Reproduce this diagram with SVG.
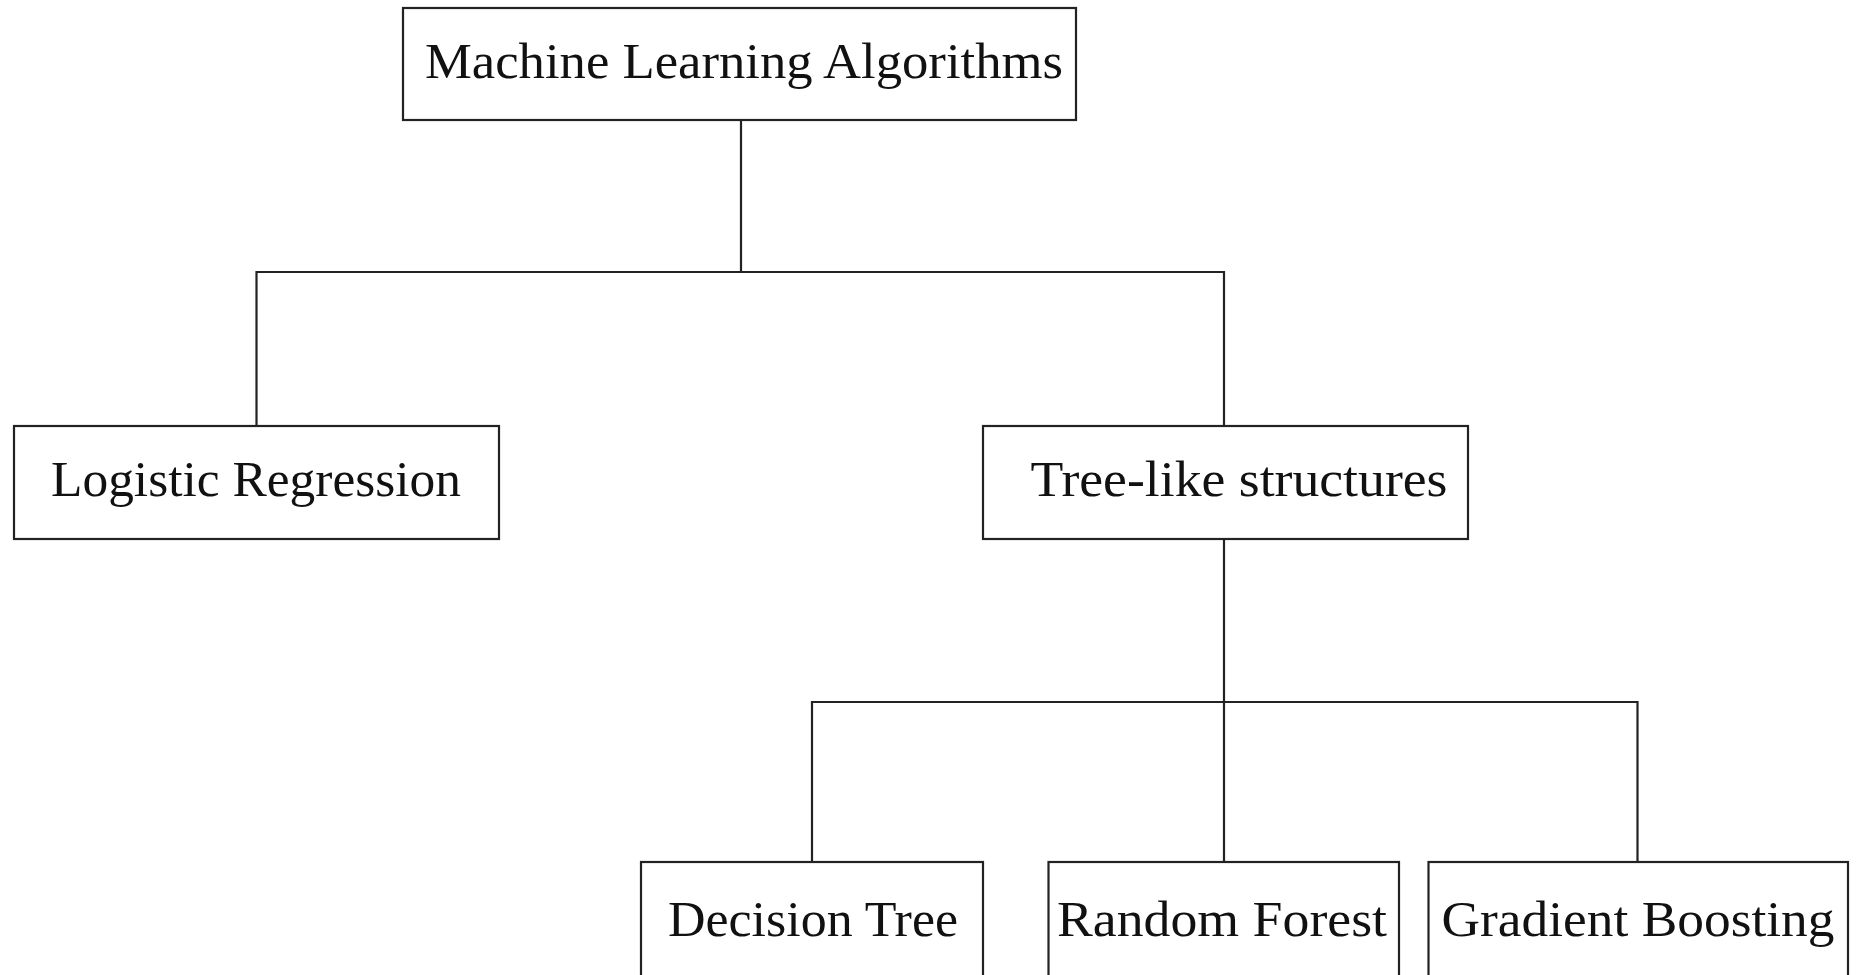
<svg xmlns="http://www.w3.org/2000/svg" width="1862" height="975" viewBox="0 0 1862 975">
<style>
.box{fill:#fff;stroke:#222;stroke-width:2.2}
.lbl{font-family:"Liberation Serif","DejaVu Serif",serif;font-size:50px;fill:#111;text-anchor:middle}
.conn{fill:none;stroke:#222;stroke-width:2.2}
</style>
<rect width="1862" height="975" fill="#fff"/>
<g id="connectors">
<path class="conn" d="M741 120 V272 M256.5 426 V272 H1224 V426"/>
<path class="conn" d="M1224 539 V702 M812 862 V702 H1637.5 V862 M1224 702 V862"/>
</g>
<g id="n-ml"><rect class="box" x="403" y="8" width="673" height="112"/><text class="lbl" x="744" y="78" textLength="638" lengthAdjust="spacingAndGlyphs">Machine Learning Algorithms</text></g>
<g id="n-lr"><rect class="box" x="14" y="426" width="485" height="113"/><text class="lbl" x="256" y="496" textLength="410" lengthAdjust="spacingAndGlyphs">Logistic Regression</text></g>
<g id="n-tree"><rect class="box" x="983" y="426" width="485" height="113"/><text class="lbl" x="1239" y="496" textLength="417" lengthAdjust="spacingAndGlyphs">Tree-like structures</text></g>
<g id="n-dt"><rect class="box" x="641" y="862" width="342" height="120"/><text class="lbl" x="813" y="936" textLength="290" lengthAdjust="spacingAndGlyphs">Decision Tree</text></g>
<g id="n-rf"><rect class="box" x="1048.5" y="862" width="350.5" height="120"/><text class="lbl" x="1222" y="936" textLength="330" lengthAdjust="spacingAndGlyphs">Random Forest</text></g>
<g id="n-gb"><rect class="box" x="1428.5" y="862" width="419.5" height="120"/><text class="lbl" x="1638" y="936" textLength="393" lengthAdjust="spacingAndGlyphs">Gradient Boosting</text></g>
</svg>
